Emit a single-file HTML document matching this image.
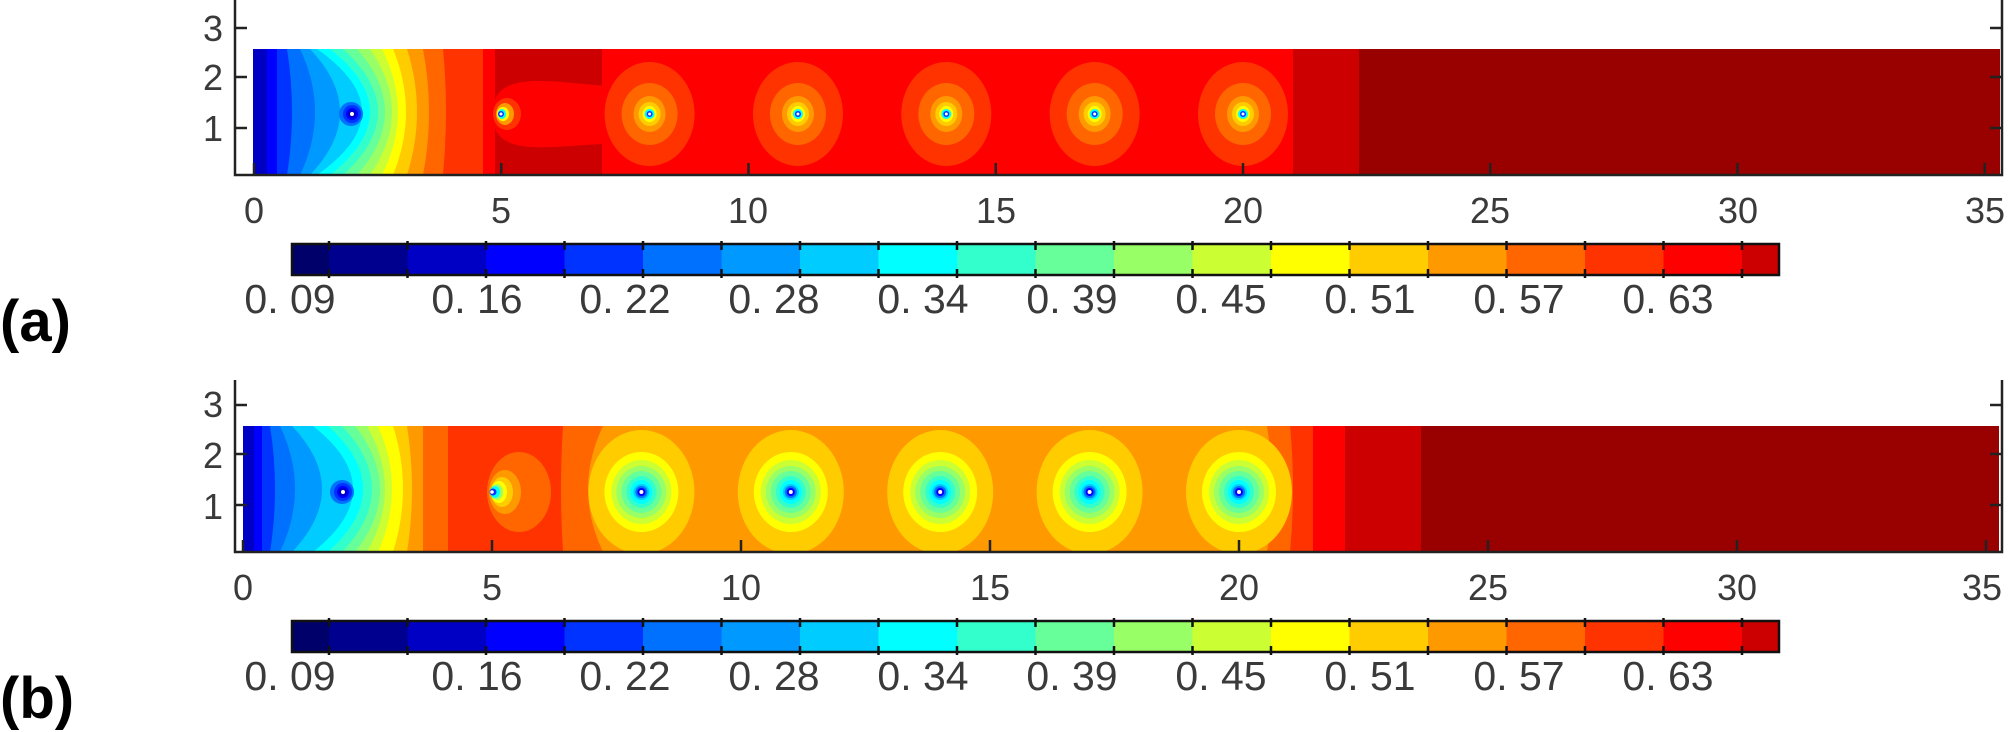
<!DOCTYPE html>
<html><head><meta charset="utf-8"><style>
html,body{margin:0;padding:0;background:#fff;}
svg{display:block;}
text{font-family:"Liberation Sans",sans-serif;fill:#3a3a3a;}
</style></head><body>
<svg id="s" width="2008" height="732" viewBox="0 0 2008 732" xmlns="http://www.w3.org/2000/svg">
<defs>
<clipPath id="ca"><rect x="253" y="49" width="1747" height="126"/></clipPath>
<clipPath id="cb"><rect x="243" y="426" width="1756" height="126"/></clipPath>
</defs>
<g id="pa" clip-path="url(#ca)"></g>
<g id="pb" clip-path="url(#cb)"></g>
<g id="cbars"></g>
<g id="axes" stroke="#222" stroke-width="2.5" fill="none"></g>
<g font-size="36">
<text x="254" y="223" text-anchor="middle">0</text>
<text x="501" y="223" text-anchor="middle">5</text>
<text x="748" y="223" text-anchor="middle">10</text>
<text x="996" y="223" text-anchor="middle">15</text>
<text x="1243" y="223" text-anchor="middle">20</text>
<text x="1490" y="223" text-anchor="middle">25</text>
<text x="1738" y="223" text-anchor="middle">30</text>
<text x="1985" y="223" text-anchor="middle">35</text>
<text x="223" y="41" text-anchor="end">3</text>
<text x="223" y="90" text-anchor="end">2</text>
<text x="223" y="141" text-anchor="end">1</text>
<text x="243" y="600" text-anchor="middle">0</text>
<text x="492" y="600" text-anchor="middle">5</text>
<text x="741" y="600" text-anchor="middle">10</text>
<text x="990" y="600" text-anchor="middle">15</text>
<text x="1239" y="600" text-anchor="middle">20</text>
<text x="1488" y="600" text-anchor="middle">25</text>
<text x="1737" y="600" text-anchor="middle">30</text>
<text x="1982" y="600" text-anchor="middle">35</text>
<text x="223" y="417" text-anchor="end">3</text>
<text x="223" y="468" text-anchor="end">2</text>
<text x="223" y="519" text-anchor="end">1</text>
</g>
<g font-size="41">
<text x="290" y="313" text-anchor="middle">0. 09</text>
<text x="477" y="313" text-anchor="middle">0. 16</text>
<text x="625" y="313" text-anchor="middle">0. 22</text>
<text x="774" y="313" text-anchor="middle">0. 28</text>
<text x="923" y="313" text-anchor="middle">0. 34</text>
<text x="1072" y="313" text-anchor="middle">0. 39</text>
<text x="1221" y="313" text-anchor="middle">0. 45</text>
<text x="1370" y="313" text-anchor="middle">0. 51</text>
<text x="1519" y="313" text-anchor="middle">0. 57</text>
<text x="1668" y="313" text-anchor="middle">0. 63</text>
<text x="290" y="690" text-anchor="middle">0. 09</text>
<text x="477" y="690" text-anchor="middle">0. 16</text>
<text x="625" y="690" text-anchor="middle">0. 22</text>
<text x="774" y="690" text-anchor="middle">0. 28</text>
<text x="923" y="690" text-anchor="middle">0. 34</text>
<text x="1072" y="690" text-anchor="middle">0. 39</text>
<text x="1221" y="690" text-anchor="middle">0. 45</text>
<text x="1370" y="690" text-anchor="middle">0. 51</text>
<text x="1519" y="690" text-anchor="middle">0. 57</text>
<text x="1668" y="690" text-anchor="middle">0. 63</text>
</g>
<text x="0" y="341" font-size="58" font-weight="bold" style="fill:#000">(a)</text>
<text x="0" y="718" font-size="58" font-weight="bold" style="fill:#000">(b)</text>
</svg>
<script>
var NS="http://www.w3.org/2000/svg";
var C=["#00006b","#00008f","#0000c4","#0000ff","#0033ff","#0070ff","#0099ff","#00ccff","#00ffff","#33ffcc","#66ff99","#99ff66","#ccff33","#ffff00","#ffcc00","#ff9900","#ff6600","#ff3300","#ff0000","#cc0000","#990000"];
function el(p,t,a){var e=document.createElementNS(NS,t);for(var k in a)e.setAttribute(k,a[k]);p.appendChild(e);return e;}
function bands(g,list,top,bot,right){var mid=(top+bot)/2;
 list.forEach(function(b){el(g,"path",{d:"M"+b[0]+","+top+" Q"+(b[0]+2*b[2])+","+mid+" "+b[0]+","+bot+" L"+right+","+bot+" L"+right+","+top+" Z",fill:C[b[1]]});});}
function rings(g,cx,cy,list){list.forEach(function(r){el(g,"ellipse",{cx:cx+(r[3]||0),cy:cy,rx:r[1],ry:r[2],fill:r[0]<0?"#fff":C[r[0]]});});}
// Panel a
var pa=document.getElementById("pa");
bands(pa,[[253,2,0],[267,3,0],[277,4,0],[287,5,5],[300,6,15],[310,7,30],[317,8,45],[330,9,40],[343,10,35],[357,11,28],[370,12,22],[382,13,16],[393,14,13],[407,15,10],[423,16,6],[443,17,3],[483,18,0],[495,19,0],[602,18,0],[1293,19,0],[1359,20,0]],49,175,2000);
el(pa,"path",{d:"M495,100 C505,70 565,84 610,86 L610,144 C565,144 505,158 495,128 Z",fill:C[18]});
rings(pa,352,114,[[5,12,12,-1],[4,9,9],[3,6,6],[2,4,4],[-1,2,2]]);
rings(pa,501,114,[[17,14,16,6],[15,9,11,4],[13,6,7,2],[8,4,5,1],[4,3,3],[-1,1.5,1.5]]);
[8,11,14,17,20].forEach(function(v){var cx=254+v*49.45;rings(pa,cx,114,[[17,45,52],[16,28,31],[15,16,18],[14,11,12],[13,7,8],[8,5,5],[4,3,3],[-1,1.5,1.5]]);});
// Panel b
var pb=document.getElementById("pb");
bands(pb,[[243,2,0],[254,3,0],[262,4,0],[270,5,5],[280,6,15],[292,7,30],[313,8,40],[328,9,35],[342,10,30],[355,11,25],[367,12,18],[378,13,14],[393,14,10],[407,15,5],[423,16,0],[448,17,0],[563,16,-2],[603,15,-15],[1267,16,5],[1290,17,3],[1313,18,0],[1345,19,0],[1421,20,0]],426,552,1999);
rings(pb,343,492,[[5,12,12,-1],[4,9,9],[3,6,6],[2,4,4],[-1,2,2]]);
rings(pb,492,492,[[16,32,40,27],[15,16,22,13],[14,11,15,10],[13,8,11,7],[11,6,8,5],[8,5,6,3],[4,3.5,3.5,1],[-1,1.8,1.8]]);
[8,11,14,17,20].forEach(function(v){var cx=243+v*49.8;rings(pb,cx,492,[[14,53,62],[13,37,40],[12,30,32],[11,25,26],[10,20,21],[9,15,16],[8,11,12],[7,8,8],[5,6,6],[3,4,4],[-1,2,2]]);});
// colorbars
var cb=document.getElementById("cbars");
[0,377].forEach(function(dy){
 var xs=[292];for(var i=0;i<19;i++)xs.push(329+i*(1742-329)/18);xs.push(1779);
 for(var i=0;i<21;i++){el(cb,"rect",{x:xs[i],y:244+dy,width:xs[i+1]-xs[i]+0.5,height:31,fill:C[i]});}
 el(cb,"rect",{x:292,y:244+dy,width:1487,height:31,fill:"none",stroke:"#111","stroke-width":2.5});
 for(var i=1;i<20;i++){el(cb,"line",{x1:xs[i],y1:241+dy,x2:xs[i],y2:250+dy,stroke:"#111","stroke-width":2.5});el(cb,"line",{x1:xs[i],y1:269+dy,x2:xs[i],y2:278+dy,stroke:"#111","stroke-width":2.5});}
});
// axes
var ax=document.getElementById("axes");
function axesPanel(dy,x0,s,top){
 el(ax,"path",{d:"M235,"+top+" L235,"+(175+dy)+" L2002,"+(175+dy)+" L2002,"+top});
 [28,77,128].forEach(function(y){el(ax,"line",{x1:235,y1:y+dy,x2:247,y2:y+dy});el(ax,"line",{x1:1990,y1:y+dy,x2:2002,y2:y+dy});});
 for(var v=0;v<=35;v+=5){var x=x0+v*s;el(ax,"line",{x1:x,y1:175+dy,x2:x,y2:163+dy});}
}
axesPanel(0,254,49.45,0);
axesPanel(377,243,49.8,380);
</script>
</body></html>
